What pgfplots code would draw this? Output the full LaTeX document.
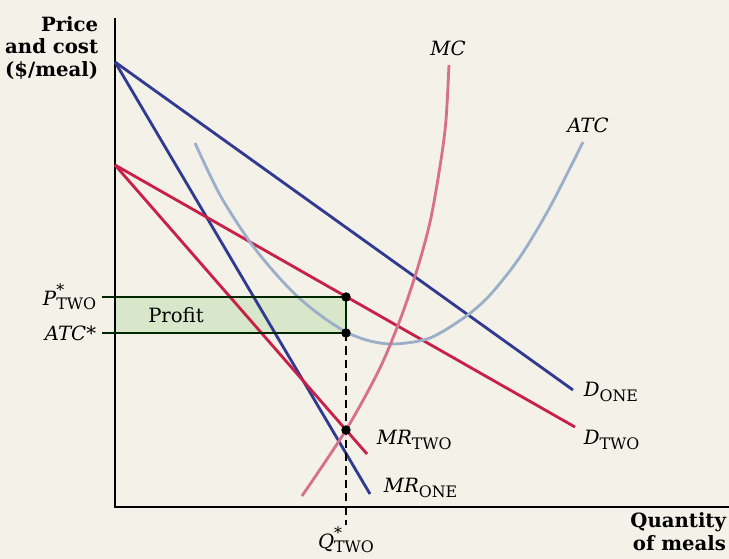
\documentclass[border=0pt]{standalone}
\usepackage{pgfplots}
\pgfplotsset{compat=1.18}
\usepackage{fontspec}
\setmainfont{DejaVu Serif}
\definecolor{paper}{RGB}{243,241,232}
\definecolor{cblue}{RGB}{48,58,145}
\definecolor{cred}{RGB}{200,32,72}
\definecolor{cpink}{RGB}{215,112,138}
\definecolor{catc}{RGB}{155,175,200}
\definecolor{cprofit}{RGB}{216,230,202}
\newcommand{\sub}[1]{\raisebox{-0.45ex}{\fontsize{9.5}{9.5}\selectfont #1}}
\newcommand{\lbl}{\fontsize{11.8}{13.6}\selectfont}
\begin{document}
\begin{tikzpicture}
\fill[paper] (-69pt,-31.2pt) rectangle (368.4pt,304.2pt);
\begin{axis}[x=0.6pt,y=0.6pt,xmin=0,xmax=614,ymin=0,ymax=489,hide axis,clip=false]
% profit rectangle
\addplot[draw=none,fill=cprofit] coordinates {(0,174)(231,174)(231,210)(0,210)} \closedcycle;
% axes
\addplot[black,line width=1.1pt] coordinates {(0,489)(0,0)(614,0)};
% demand and MR
\addplot[cblue,line width=1.7pt] coordinates {(0,445)(458,117)};
\addplot[cblue,line width=1.7pt] coordinates {(0,445)(255,13)};
\addplot[cred,line width=1.7pt] coordinates {(0,342)(460,80)};
\addplot[cred,line width=1.7pt] coordinates {(0,342)(252,53)};
% ATC
\addplot[catc,line width=1.7pt,smooth] coordinates {(80,364)(105,312)(135,265)(160,234)(182,211)(205,192)(231,175)(255,166)(280,163)(315,169)(350,190)(375,212)(405,250)(435,300)(468,365)};
% MC
\addplot[cpink,line width=1.7pt,smooth] coordinates {(187,11)(231,77)(264,137)(285,187)(302,237)(315.5,287)(326,347)(331,387)(334,442)};
% profit box lines
\addplot[black!85!green,line width=1.1pt] coordinates {(-13,210)(231,210)(231,174)(-13,174)};
\addplot[black,line width=0.7pt,dash pattern=on 5pt off 3pt] coordinates {(231,174)(231,-18)};
\addplot[only marks,mark=*,mark size=2.6pt,black] coordinates {(231,210)(231,174)(231,77)};
% labels
\node[anchor=east,align=right,font=\lbl\bfseries] at (axis cs:-11,459) {Price\\and cost\\(\$/meal)};
\node[anchor=north east,align=right,font=\lbl\bfseries,inner sep=1pt] at (axis cs:613,-4) {Quantity\\of meals};
\node[font=\lbl\itshape] at (axis cs:333,459) {MC};
\node[font=\lbl\itshape] at (axis cs:473,382) {ATC};
\node[anchor=west,font=\lbl] at (axis cs:463,115) {\textit{D}\sub{ONE}};
\node[anchor=west,font=\lbl] at (axis cs:463,67) {\textit{D}\sub{TWO}};
\node[anchor=west,font=\lbl] at (axis cs:256,67) {\textit{MR}\sub{TWO}};
\node[anchor=west,font=\lbl] at (axis cs:263,19) {\textit{MR}\sub{ONE}};
\node[anchor=east,font=\lbl] at (axis cs:-13,210) {\textit{P}\rlap{\raisebox{0.9ex}{\fontsize{9.5}{9.5}\selectfont *}}\sub{TWO}};
\node[anchor=east,font=\lbl] at (axis cs:-13,174) {\textit{ATC*}};
\node[font=\lbl] at (axis cs:61,192) {Profit};
\node[font=\lbl] at (axis cs:231,-33) {\textit{Q}\rlap{\raisebox{0.9ex}{\fontsize{9.5}{9.5}\selectfont *}}\sub{TWO}};
\coordinate (bl) at (axis cs:-115,-52);
\coordinate (tr) at (axis cs:614,507);
\end{axis}
\pgfresetboundingbox
\path[use as bounding box] (bl) rectangle (tr);
\end{tikzpicture}
\end{document}
